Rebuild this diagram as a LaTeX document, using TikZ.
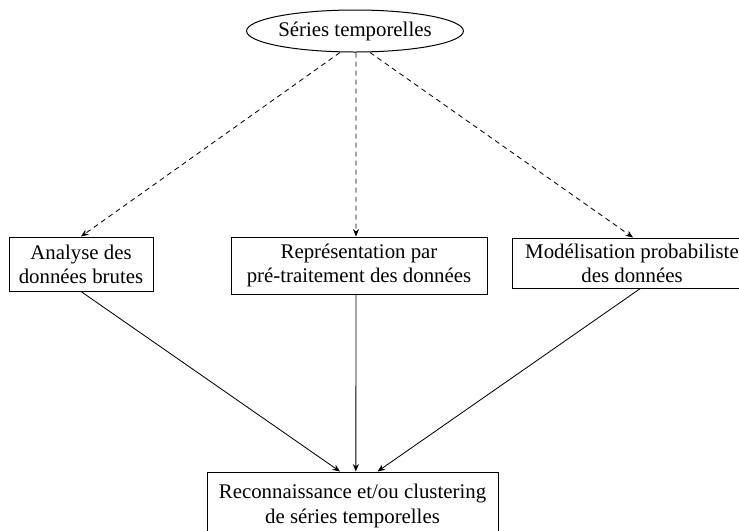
\documentclass[tikz,border=0pt]{standalone}
\usepackage{fontspec}
\setmainfont{Liberation Serif}
\usetikzlibrary{arrows.meta,shapes.geometric}
\begin{document}
\begin{tikzpicture}[x=0.6pt,y=-0.6pt,
  txt/.style={font=\fontsize{12.5}{14.5}\selectfont, align=center, inner sep=0pt},
  box/.style={txt, draw, line width=0.6pt},
  tip/.style={-{Stealth[length=4.5pt,width=3.6pt]}, line width=0.5pt},
  dashlink/.style={tip, dash pattern=on 3pt off 2.4pt}]
\useasboundingbox[clip] (0,0) rectangle (739,530);
\fill[white] (0,0) rectangle (739,530);

% top ellipse
\node[txt, draw, ellipse, line width=0.6pt, minimum width=176*0.6pt, minimum height=42*0.6pt] (ts) at (355,31) {Séries temporelles};

% three approaches
\node[box, minimum width=144*0.6pt, minimum height=54*0.6pt] (raw) at (81,264) {Analyse des\\données brutes};
\node[box, minimum width=256*0.6pt, minimum height=57*0.6pt] (rep) at (359,265.5) {Représentation par\\pré-traitement des données};
\node[box, minimum width=240*0.6pt, minimum height=50*0.6pt] (mod) at (632,263) {Modélisation probabiliste\\des données};

% result
\node[box, minimum width=291*0.6pt, minimum height=68*0.6pt] (rec) at (352.5,506) {Reconnaissance et/ou clustering\\de séries temporelles};

% dashed links from the series
\draw[dashlink] ([xshift=-9pt]ts.south) -- (raw.north);
\draw[dashlink] ([xshift=0.6pt]ts.south) -- ([xshift=-1.8pt]rep.north);
\draw[dashlink] ([xshift=9pt]ts.south) -- ([xshift=0.6pt]mod.north);

% solid links into the result
\draw[tip] (raw.south) -- ([xshift=-7.5pt]rec.north);
\draw[tip] ([xshift=-1.8pt]rep.south) -- ([xshift=2pt]rec.north);
\draw[tip] ([xshift=5pt]mod.south) -- ([xshift=15pt]rec.north);
\end{tikzpicture}
\end{document}
